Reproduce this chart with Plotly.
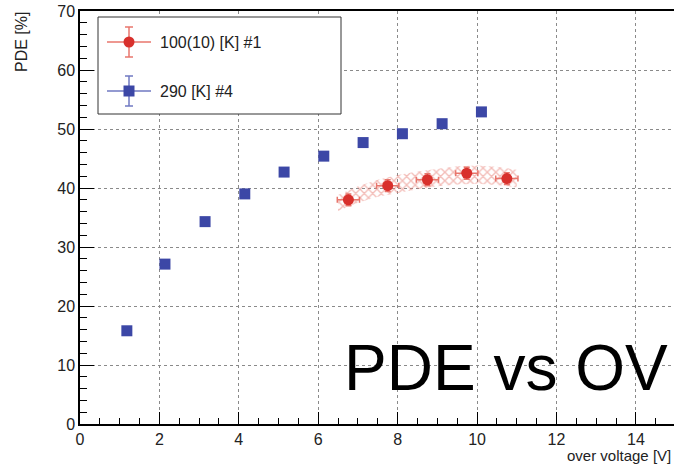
import plotly.graph_objects as go

# ---- data ----
ov_290 = [1.18, 2.14, 3.15, 4.15, 5.14, 6.14, 7.13, 8.12, 9.12, 10.11]
pde_290 = [15.8, 27.1, 34.3, 39.0, 42.7, 45.4, 47.7, 49.2, 50.9, 52.9]
pde_290_err = [0.4, 0.4, 0.4, 0.4, 0.4, 0.4, 0.4, 0.4, 0.4, 0.4]

ov_100 = [6.76, 7.75, 8.75, 9.74, 10.75]
pde_100 = [38.0, 40.4, 41.4, 42.5, 41.6]
ov_100_err = [0.28, 0.28, 0.28, 0.28, 0.28]
pde_100_err = [1.0, 1.0, 1.0, 1.0, 1.0]

band_x = [6.5, 7.0, 7.5, 8.0, 8.5, 9.0, 9.5, 10.0, 10.5, 11.0]
band_upper = [38.8, 40.3, 41.4, 42.2, 42.8, 43.3, 43.7, 43.8, 43.6, 43.1]
band_lower = [36.1, 37.5, 38.5, 39.2, 39.8, 40.3, 40.6, 40.7, 40.5, 40.1]

legend_labels = ["100(10) [K] #1", "290 [K] #4"]

RED = "#d8302c"
RED_ERR = "#e8766c"
RED_BAND = "#e87c72"
BLUE = "#3c47a6"
BLUE_ERR = "#6f78c2"
FONT = "Liberation Sans, Arial, Helvetica, sans-serif"

W, H = 674, 465
ML, MR, MT, MB = 80, 0, 11, 41
PW = W - ML - MR
PH = H - MT - MB
XMAX = 14.96


def px(x):
    return (x - ML) / PW


def py(y):
    return (H - MB - y) / PH


fig = go.Figure()

# band (hatched)
fig.add_trace(go.Scatter(
    x=band_x + band_x[::-1],
    y=band_upper + band_lower[::-1],
    fill="toself",
    mode="lines",
    line=dict(width=0, color=RED_BAND),
    fillcolor="rgba(0,0,0,0)",
    fillpattern=dict(shape="x", fgcolor=RED_BAND, bgcolor="rgba(255,255,255,0)",
                     size=6, solidity=0.4),
    hoverinfo="skip",
    showlegend=False,
))

fig.add_trace(go.Scatter(
    x=ov_290, y=pde_290, mode="markers",
    marker=dict(symbol="square", size=11, color=BLUE),
    error_y=dict(type="data", array=pde_290_err, color=BLUE_ERR, thickness=1, width=3),
    showlegend=False,
))

fig.add_trace(go.Scatter(
    x=ov_100, y=pde_100, mode="markers",
    marker=dict(symbol="circle", size=11, color=RED),
    error_x=dict(type="data", array=ov_100_err, color=RED_ERR, thickness=1.5, width=3),
    error_y=dict(type="data", array=pde_100_err, color=RED_ERR, thickness=1.5, width=3),
    showlegend=False,
))

# ---- manual legend ----
shapes = []
shapes.append(dict(type="rect", xref="paper", yref="paper",
                   x0=px(98), x1=px(341), y0=py(17), y1=py(114),
                   line=dict(color="#333", width=1), fillcolor="white", layer="above"))


def glyph(cy, color, ecolor, sym):
    out = []
    out.append(dict(type="line", xref="paper", yref="paper",
                    x0=px(107), x1=px(151), y0=py(cy), y1=py(cy),
                    line=dict(color=ecolor, width=1.5)))
    out.append(dict(type="line", xref="paper", yref="paper",
                    x0=px(129), x1=px(129), y0=py(cy - 15), y1=py(cy + 15),
                    line=dict(color=ecolor, width=1.5)))
    for dy in (-15, 15):
        out.append(dict(type="line", xref="paper", yref="paper",
                        x0=px(125), x1=px(133), y0=py(cy + dy), y1=py(cy + dy),
                        line=dict(color=ecolor, width=1.5)))
    r = 5.5
    out.append(dict(type=sym, xref="paper", yref="paper",
                    x0=px(129 - r), x1=px(129 + r), y0=py(cy - r), y1=py(cy + r),
                    line=dict(color=color, width=0), fillcolor=color))
    return out


shapes += glyph(42, RED, RED_ERR, "circle")
shapes += glyph(91, BLUE, BLUE_ERR, "rect")

annotations = [
    dict(text=legend_labels[0], x=px(158), y=py(42), xref="paper", yref="paper",
         xanchor="left", yanchor="middle", showarrow=False,
         font=dict(family=FONT, size=16, color="#222")),
    dict(text=legend_labels[1], x=px(158), y=py(91), xref="paper", yref="paper",
         xanchor="left", yanchor="middle", showarrow=False,
         font=dict(family=FONT, size=16, color="#222")),
    dict(text="PDE [%]", x=px(22), y=py(10), xref="paper", yref="paper",
         xanchor="center", yanchor="top", textangle=-90, showarrow=False,
         font=dict(family=FONT, size=16, color="#222")),
    dict(text="over voltage [V]", x=px(673), y=py(456), xref="paper", yref="paper",
         xanchor="right", yanchor="middle", showarrow=False,
         font=dict(family=FONT, size=15, color="#222")),
    dict(text="PDE vs OV", x=px(342), y=py(368), xref="paper", yref="paper",
         xanchor="left", yanchor="middle", showarrow=False,
         font=dict(family=FONT, size=64, color="black")),
]

fig.update_layout(
    width=W, height=H,
    margin=dict(l=ML, r=MR, t=MT, b=MB, pad=0),
    paper_bgcolor="white", plot_bgcolor="white",
    showlegend=False,
    shapes=shapes,
    annotations=annotations,
    font=dict(family=FONT, size=16, color="#222"),
)

fig.update_xaxes(
    range=[0, XMAX], dtick=2, tick0=0,
    showline=True, linecolor="black", linewidth=1.5, mirror=True,
    ticks="inside", ticklen=12, tickcolor="black", tickwidth=1,
    minor=dict(dtick=0.5, ticks="inside", ticklen=6, tickcolor="black", showgrid=False),
    showgrid=True, gridcolor="#8a8a8a", griddash="dot", gridwidth=1,
    zeroline=False,
    tickfont=dict(family=FONT, size=16, color="#222"),
)
fig.update_yaxes(
    range=[0, 70], dtick=10, tick0=0,
    showline=True, linecolor="black", linewidth=1.5,
    ticks="inside", ticklen=14, tickcolor="black", tickwidth=1,
    minor=dict(dtick=2, ticks="inside", ticklen=7, tickcolor="black", showgrid=False),
    showgrid=True, gridcolor="#8a8a8a", griddash="dot", gridwidth=1,
    zeroline=False,
    tickfont=dict(family=FONT, size=16, color="#222"),
)

fig.write_html("out.html")
